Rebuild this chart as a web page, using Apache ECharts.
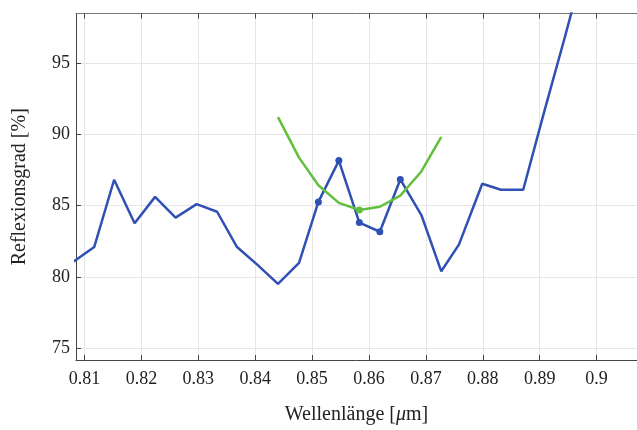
<!DOCTYPE html>
<html>
<head>
<meta charset="utf-8">
<script src="https://cdn.jsdelivr.net/npm/echarts@6/dist/echarts.min.js"></script>
<style>
  html, body { margin: 0; padding: 0; background: #fff; }
  #chart { width: 637px; height: 430px; }
</style>
</head>
<body>
<div id="chart"></div>
<script>
// Measured reflectance spectrum (blue) and fitted curve (green)
const wavelength = [0.8081, 0.8117, 0.8152, 0.8188, 0.8224, 0.8260, 0.8297, 0.8333, 0.8368, 0.8404,
                    0.8440, 0.8477, 0.8511, 0.8547, 0.8583, 0.8619, 0.8655, 0.8692, 0.8727, 0.8758,
                    0.8799, 0.8832, 0.8871, 0.8907, 0.8944, 0.8980];
const reflectance = [81.09, 82.10, 86.81, 83.76, 85.61, 84.16, 85.10, 84.57, 82.10, 80.85,
                     79.52, 80.99, 85.26, 88.15, 83.81, 83.17, 86.83, 84.34, 80.40, 82.27,
                     86.53, 86.11, 86.11, 91.44, 96.77, 102.1];
const markedWavelengths = [0.8511, 0.8547, 0.8583, 0.8619, 0.8655];

const fitWavelength = [0.8440, 0.8477, 0.8511, 0.8547, 0.8583, 0.8619, 0.8655, 0.8692, 0.8727];
const fitReflectance = [91.19, 88.36, 86.42, 85.19, 84.69, 84.92, 85.70, 87.39, 89.81];
const fitMarked = [0.8583];

const xTicks = [0.81, 0.82, 0.83, 0.84, 0.85, 0.86, 0.87, 0.88, 0.89, 0.90];
const yTicks = [75, 80, 85, 90, 95];

const blue = '#3050b4';
const green = '#62bf3c';
const font = 'Liberation Serif, Times New Roman, serif';

function pointsOf(xs, ys, marked) {
  return xs.map((x, i) => {
    const on = marked.indexOf(x) >= 0;
    return { value: [x, ys[i]], symbol: on ? 'circle' : 'none', symbolSize: on ? 7 : 0 };
  });
}

const xCommon = {
  type: 'value',
  min: 0.8085,
  max: 0.9071,
  axisTick: { inside: true, length: 5, customValues: xTicks, lineStyle: { color: '#444' } },
};

const chart = echarts.init(document.getElementById('chart'), null, { renderer: 'canvas' });
chart.setOption({
  animation: false,
  backgroundColor: '#fff',
  grid: { left: 76, top: 13.5, bottom: 66, right: -2, containLabel: false },
  xAxis: [
    Object.assign({}, xCommon, {
      position: 'bottom',
      name: 'Wellenlänge [{mu|μ}m]',
      nameLocation: 'middle',
      nameGap: 45,
      nameTextStyle: {
        fontFamily: font, fontSize: 20, color: '#222',
        rich: { mu: { fontFamily: font, fontSize: 20, fontStyle: 'italic', color: '#222' } }
      },
      axisLine: { lineStyle: { color: '#444', width: 1 } },
      axisLabel: { customValues: xTicks, fontFamily: font, fontSize: 18, color: '#222', margin: 10 },
      splitLine: { show: true, lineStyle: { color: '#e6e6e6', width: 1 } }
    }),
    Object.assign({}, xCommon, {
      position: 'top',
      axisLine: { lineStyle: { color: '#777', width: 1 } },
      axisLabel: { show: false },
      splitLine: { show: false }
    })
  ],
  yAxis: {
    type: 'value',
    min: 74.19,
    max: 98.45,
    name: 'Reflexionsgrad [%]',
    nameLocation: 'middle',
    nameGap: 46,
    nameTextStyle: { fontFamily: font, fontSize: 20, color: '#222' },
    axisLine: { show: true, lineStyle: { color: '#444', width: 1 } },
    axisTick: { inside: true, length: 5, customValues: yTicks, lineStyle: { color: '#444' } },
    axisLabel: { customValues: yTicks, fontFamily: font, fontSize: 18, color: '#222', margin: 6 },
    splitLine: { show: true, lineStyle: { color: '#e6e6e6', width: 1 } }
  },
  series: [
    {
      type: 'line',
      xAxisIndex: 0,
      data: pointsOf(wavelength, reflectance, markedWavelengths),
      lineStyle: { color: blue, width: 2.5 },
      itemStyle: { color: blue },
      clip: true,
      z: 2
    },
    {
      type: 'line',
      xAxisIndex: 0,
      data: pointsOf(fitWavelength, fitReflectance, fitMarked),
      lineStyle: { color: green, width: 2.5 },
      itemStyle: { color: green },
      clip: true,
      z: 3
    }
  ]
});
</script>
</body>
</html>
